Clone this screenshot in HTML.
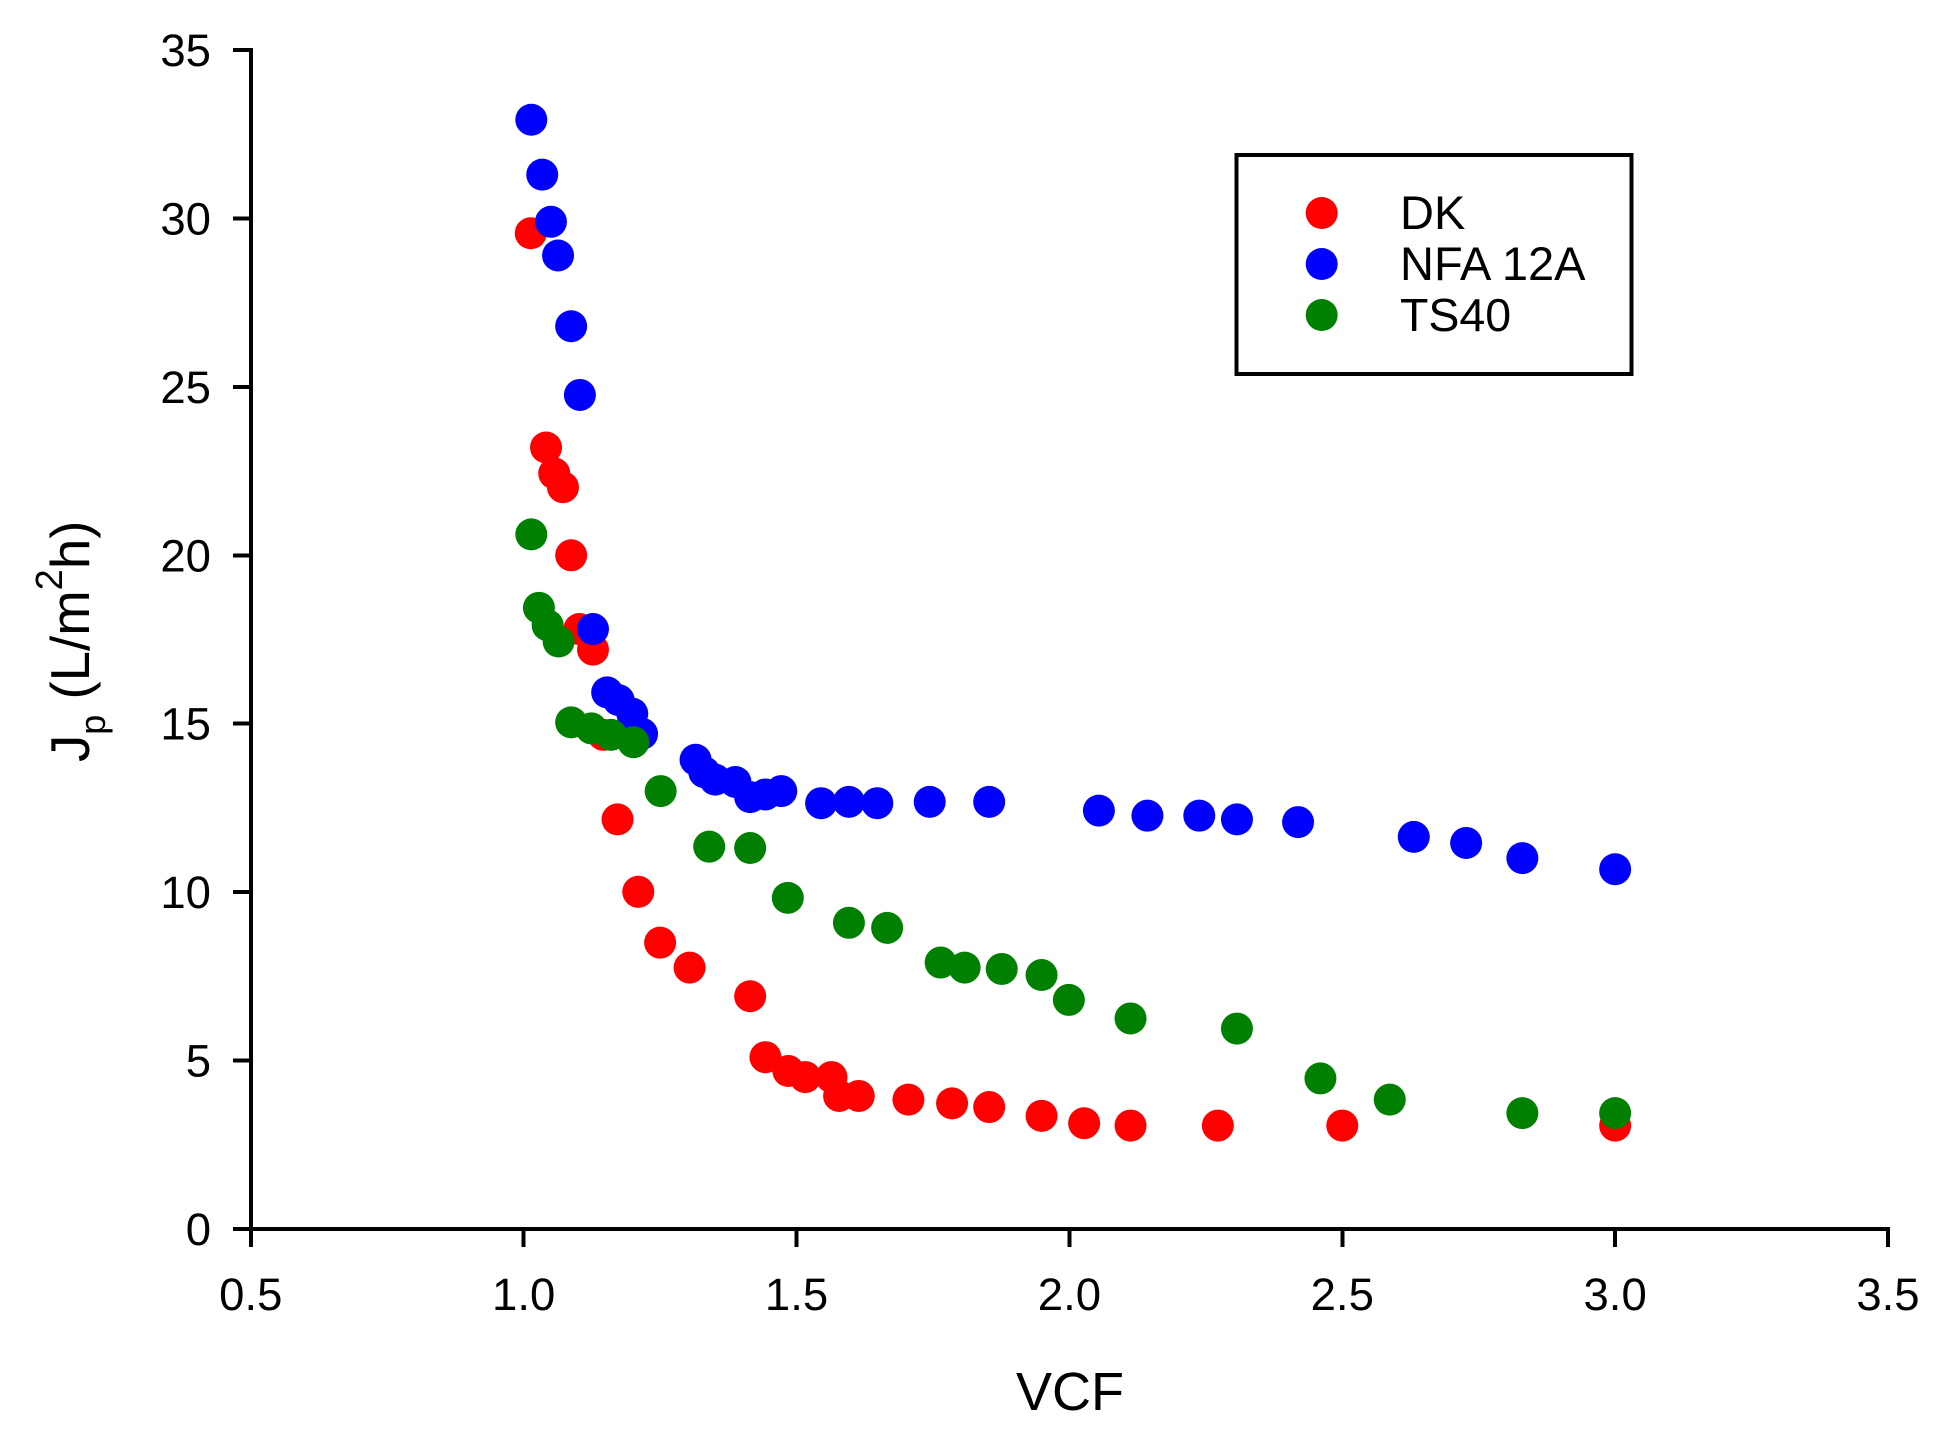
<!DOCTYPE html>
<html>
<head>
<meta charset="utf-8">
<title>Jp vs VCF</title>
<style>
html,body{margin:0;padding:0;background:#fff;}
svg{display:block;}
text{font-family:"Liberation Sans",Arial,sans-serif;fill:#000;}
</style>
</head>
<body>
<svg id="chart" xmlns="http://www.w3.org/2000/svg" width="1951" height="1441" viewBox="0 0 1951 1441">
  <rect x="0" y="0" width="1951" height="1441" fill="#fff"/>
  <g id="marks"></g>
  <g id="axes"></g>
  <text x="1070" y="1410" font-size="54" text-anchor="middle">VCF</text>
  <text transform="translate(89,762) rotate(-90)" font-size="54.6">J<tspan font-size="36" dy="16">p</tspan><tspan dy="-16"> (L/m</tspan><tspan font-size="38" dy="-27">2</tspan><tspan dy="27">h)</tspan></text>
  <g>
    <rect x="1236.5" y="155" width="395" height="219" fill="#fff" stroke="#000" stroke-width="4" shape-rendering="crispEdges"/>
    <circle cx="1321.7" cy="213" r="16" fill="#ff0000"/>
    <circle cx="1321.7" cy="264" r="16" fill="#0000ff"/>
    <circle cx="1321.7" cy="315" r="16" fill="#008000"/>
    <text x="1400" y="229" font-size="47">DK</text>
    <text x="1400" y="280" font-size="47">NFA 12A</text>
    <text x="1400" y="331" font-size="46.5">TS40</text>
  </g>
</svg>
<script>
var xTicks = [0.5, 1.0, 1.5, 2.0, 2.5, 3.0, 3.5];
var yTicks = [0, 5, 10, 15, 20, 25, 30, 35];
var xTickLabels = ["0.5", "1.0", "1.5", "2.0", "2.5", "3.0", "3.5"];
var yTickLabels = ["0", "5", "10", "15", "20", "25", "30", "35"];

var dkX = [1.013, 1.041, 1.056, 1.072, 1.087, 1.102, 1.127, 1.146, 1.172, 1.21, 1.25, 1.304, 1.415, 1.443, 1.485, 1.516, 1.564, 1.578, 1.614, 1.705, 1.785, 1.853, 1.949, 2.027, 2.112, 2.272, 2.5, 3.0];
var dkY = [29.56, 23.2, 22.43, 22.02, 20.0, 17.81, 17.2, 14.67, 12.16, 10.01, 8.5, 7.76, 6.91, 5.1, 4.69, 4.51, 4.51, 3.95, 3.95, 3.84, 3.73, 3.62, 3.36, 3.14, 3.07, 3.07, 3.07, 3.07];

var nfaX = [1.014, 1.034, 1.05, 1.063, 1.087, 1.103, 1.127, 1.153, 1.174, 1.199, 1.217, 1.315, 1.331, 1.351, 1.388, 1.415, 1.443, 1.472, 1.545, 1.596, 1.648, 1.744, 1.853, 2.054, 2.143, 2.238, 2.307, 2.419, 2.631, 2.727, 2.83, 3.0];
var nfaY = [32.93, 31.3, 29.9, 28.9, 26.8, 24.76, 17.81, 15.93, 15.7, 15.3, 14.7, 13.93, 13.56, 13.34, 13.27, 12.82, 12.9, 13.0, 12.64, 12.68, 12.64, 12.68, 12.68, 12.42, 12.27, 12.27, 12.16, 12.08, 11.64, 11.46, 11.01, 10.68];

var tsX = [1.014, 1.028, 1.044, 1.064, 1.087, 1.124, 1.16, 1.201, 1.251, 1.34, 1.415, 1.484, 1.596, 1.666, 1.764, 1.808, 1.876, 1.949, 1.999, 2.112, 2.307, 2.46, 2.587, 2.83, 3.0];
var tsY = [20.62, 18.44, 17.92, 17.44, 15.04, 14.86, 14.67, 14.45, 13.0, 11.35, 11.31, 9.83, 9.09, 8.94, 7.91, 7.76, 7.72, 7.54, 6.8, 6.25, 5.95, 4.47, 3.84, 3.44, 3.44];

var NS = 'http://www.w3.org/2000/svg';
var plotLeft = 250.8, plotRight = 1888, plotBottom = 1229, plotTop = 50;
var xMin = 0.5, xMax = 3.5, yMin = 0, yMax = 35;

function xScale(v) { return plotLeft + (v - xMin) / (xMax - xMin) * (plotRight - plotLeft); }
function yScale(v) { return plotBottom - (v - yMin) / (yMax - yMin) * (plotBottom - plotTop); }

function line(parent, x1, y1, x2, y2, name) {
  var el = document.createElementNS(NS, 'line');
  el.setAttribute('x1', x1);
  el.setAttribute('y1', y1);
  el.setAttribute('x2', x2);
  el.setAttribute('y2', y2);
  el.setAttribute('stroke', '#000');
  el.setAttribute('stroke-width', '4');
  el.setAttribute('stroke-linecap', 'square');
  el.setAttribute('shape-rendering', 'crispEdges');
  
  
  parent.appendChild(el);
}

function label(parent, x, y, str, anchor, name) {
  var el = document.createElementNS(NS, 'text');
  el.setAttribute('x', x);
  el.setAttribute('y', y);
  el.setAttribute('font-size', '45.5');
  el.setAttribute('text-anchor', anchor);
  
  
  el.textContent = str;
  parent.appendChild(el);
}

function drawSeries(xs, ys, color, name) {
  var marks = document.getElementById('marks');
  var group = document.createElementNS(NS, 'g');
  
  
  for (var i = 0; i < xs.length; i++) {
    var c = document.createElementNS(NS, 'circle');
    c.setAttribute('cx', xScale(xs[i]));
    c.setAttribute('cy', yScale(ys[i]));
    c.setAttribute('r', '16');
    c.setAttribute('fill', color);
    
    
    group.appendChild(c);
  }
  marks.appendChild(group);
}

drawSeries(dkX, dkY, '#ff0000', 'dk');
drawSeries(nfaX, nfaY, '#0000ff', 'nfa-12a');
drawSeries(tsX, tsY, '#008000', 'ts40');

var axes = document.getElementById('axes');
line(axes, plotLeft, plotTop, plotLeft, plotBottom, 'y-axis-line');
line(axes, plotLeft, plotBottom, plotRight, plotBottom, 'x-axis-line');
for (var i = 0; i < xTicks.length; i++) {
  var tx = xScale(xTicks[i]);
  line(axes, tx, plotBottom, tx, 1245, 'x-tick');
  label(axes, tx, 1310, xTickLabels[i], 'middle', 'x-tick-label');
}
for (var j = 0; j < yTicks.length; j++) {
  var ty = yScale(yTicks[j]);
  line(axes, 235, ty, plotLeft, ty, 'y-tick');
  label(axes, 211, ty + 16, yTickLabels[j], 'end', 'y-tick-label');
}
</script>
</body>
</html>
